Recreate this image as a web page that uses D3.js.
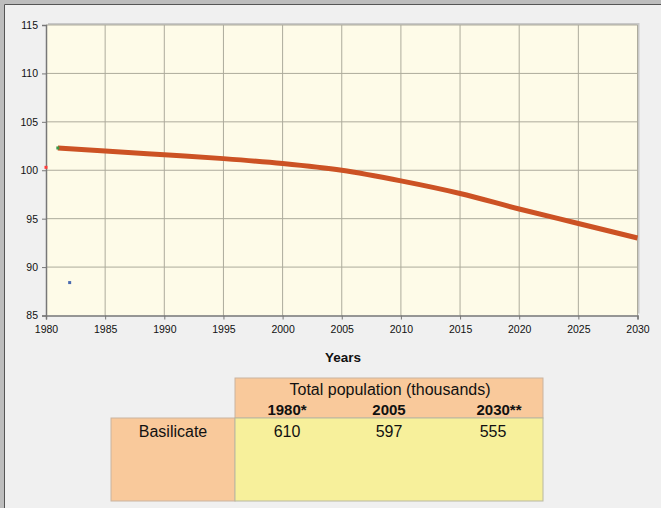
<!DOCTYPE html>
<html>
<head>
<meta charset="utf-8">
<script src="https://cdn.jsdelivr.net/npm/d3@7"></script>
<style>
  body { margin: 0; background: #f0f0f0; }
  svg { display: block; font-family: "Liberation Sans", Arial, sans-serif; }
</style>
</head>
<body>
<svg width="661" height="508"></svg>
<script>
// main series: index (base 2005 = 100)
var years = [1981, 1985, 1990, 1995, 2000, 2005, 2010, 2015, 2020, 2025, 2030];
var index = [102.3, 102.0, 101.6, 101.2, 100.7, 100.0, 98.9, 97.6, 96.0, 94.5, 93.0];

// stray single points from the original sheet
var dotYears = [1980, 1981, 1982];
var dotValues = [100.3, 102.3, 88.4];
var dotColors = ["#ff3b3b", "#3a9a4a", "#4a6ab0"];

var xTicks = d3.range(1980, 2031, 5);
var yTicks = d3.range(85, 116, 5);

// table contents
var tableTitle = "Total population (thousands)";
var tableCols = ["1980*", "2005", "2030**"];
var tableRegion = "Basilicate";
var tableValues = [610, 597, 555];

var svg = d3.select("svg");

// window frame
svg.append("rect").attr("x", 0).attr("y", 0).attr("width", 661).attr("height", 4).attr("fill", "#bdbdbd");
svg.append("rect").attr("x", 0).attr("y", 0).attr("width", 4).attr("height", 508).attr("fill", "#bdbdbd");
svg.append("line").attr("x1", 4.5).attr("x2", 661).attr("y1", 4.5).attr("y2", 4.5).attr("stroke", "#555");
svg.append("line").attr("x1", 4.5).attr("x2", 4.5).attr("y1", 4.5).attr("y2", 508).attr("stroke", "#555");

var x = d3.scaleLinear().domain([1980, 2030]).range([46, 637.5]);
var y = d3.scaleLinear().domain([85, 115]).range([315.5, 25]);

var plot = svg.append("g");

// plot background with soft shadow
plot.append("rect")
    .attr("x", x(1980) + 2).attr("y", y(115) - 2)
    .attr("width", x(2030) - x(1980)).attr("height", y(85) - y(115))
    .attr("fill", "#c8c8c8");
plot.append("rect")
    .attr("x", x(1980)).attr("y", y(115))
    .attr("width", x(2030) - x(1980)).attr("height", y(85) - y(115))
    .attr("fill", "#fefbe8");

// grid
plot.append("g").selectAll("line")
    .data(xTicks.slice(1))
    .enter().append("line")
    .attr("x1", function(d) { return x(d); })
    .attr("x2", function(d) { return x(d); })
    .attr("y1", y(115)).attr("y2", y(85))
    .attr("stroke", "#adab9c").attr("stroke-width", 1);

plot.append("g").selectAll("line")
    .data(yTicks.slice(1))
    .enter().append("line")
    .attr("x1", x(1980)).attr("x2", x(2030))
    .attr("y1", function(d) { return y(d); })
    .attr("y2", function(d) { return y(d); })
    .attr("stroke", "#adab9c").attr("stroke-width", 1);

// axes
var xAxis = d3.axisBottom(x).tickValues(xTicks).tickFormat(d3.format("d")).tickSize(4).tickPadding(6);
var yAxis = d3.axisLeft(y).tickValues(yTicks).tickSize(4).tickPadding(4);

var gx = svg.append("g").attr("transform", "translate(0," + y(85) + ")").call(xAxis);
var gy = svg.append("g").attr("transform", "translate(" + x(1980) + ",0)").call(yAxis);

[gx, gy].forEach(function(g) {
    g.select(".domain").attr("stroke", "#777").attr("stroke-width", 1.5);
    g.selectAll(".tick line").attr("stroke", "#777");
    g.selectAll("text")
        .attr("fill", "#111")
        .style("font-size", "10.5px")
        .style("font-family", "'Liberation Sans', Arial, sans-serif");
});

svg.append("text")
    .attr("x", 343).attr("y", 362)
    .attr("text-anchor", "middle")
    .style("font-size", "13.5px").style("font-weight", "bold")
    .attr("fill", "#111")
    .text("Years");

// main line
var line = d3.line()
    .x(function(d, i) { return x(years[i]); })
    .y(function(d) { return y(d); })
    .curve(d3.curveMonotoneX);

plot.append("path")
    .datum(index)
    .attr("d", line)
    .attr("fill", "none")
    .attr("stroke", "#cc5224")
    .attr("stroke-width", 5)
    .attr("stroke-linecap", "butt");

svg.append("g").selectAll("rect")
    .data(dotValues)
    .enter().append("rect")
    .attr("x", function(d, i) { return x(dotYears[i]) - 1.5; })
    .attr("y", function(d) { return y(d) - 1.5; })
    .attr("width", 3).attr("height", 3)
    .attr("fill", function(d, i) { return dotColors[i]; });

// table below
var tab = svg.append("g");
var tx0 = 111, tx1 = 235, tx2 = 543;
var ty0 = 378, ty1 = 418, ty2 = 501;

tab.append("rect").attr("x", tx1).attr("y", ty0).attr("width", tx2 - tx1).attr("height", ty1 - ty0)
    .attr("fill", "#f9c99b").attr("stroke", "#c9b3a0");
tab.append("rect").attr("x", tx0).attr("y", ty1).attr("width", tx1 - tx0).attr("height", ty2 - ty1)
    .attr("fill", "#f9c99b").attr("stroke", "#c9b3a0");
tab.append("rect").attr("x", tx1).attr("y", ty1).attr("width", tx2 - tx1).attr("height", ty2 - ty1)
    .attr("fill", "#f7f09b").attr("stroke", "#b8b8a0");

var colPos = [287, 389, 499];
var valPos = [287, 389, 493];

tab.append("text")
    .attr("x", 390).attr("y", 395)
    .attr("text-anchor", "middle")
    .style("font-size", "16px").attr("fill", "#111")
    .text(tableTitle);

tab.selectAll(".colhead")
    .data(tableCols)
    .enter().append("text")
    .attr("class", "colhead")
    .attr("x", function(d, i) { return colPos[i]; })
    .attr("y", 415)
    .attr("text-anchor", "middle")
    .style("font-size", "15px").style("font-weight", "bold").attr("fill", "#111")
    .text(function(d) { return d; });

tab.selectAll(".val")
    .data(tableValues)
    .enter().append("text")
    .attr("class", "val")
    .attr("x", function(d, i) { return valPos[i]; })
    .attr("y", 437)
    .attr("text-anchor", "middle")
    .style("font-size", "16px").attr("fill", "#111")
    .text(function(d) { return d; });

tab.append("text")
    .attr("x", 173).attr("y", 437)
    .attr("text-anchor", "middle")
    .style("font-size", "16px").attr("fill", "#111")
    .text(tableRegion);
</script>
</body>
</html>
